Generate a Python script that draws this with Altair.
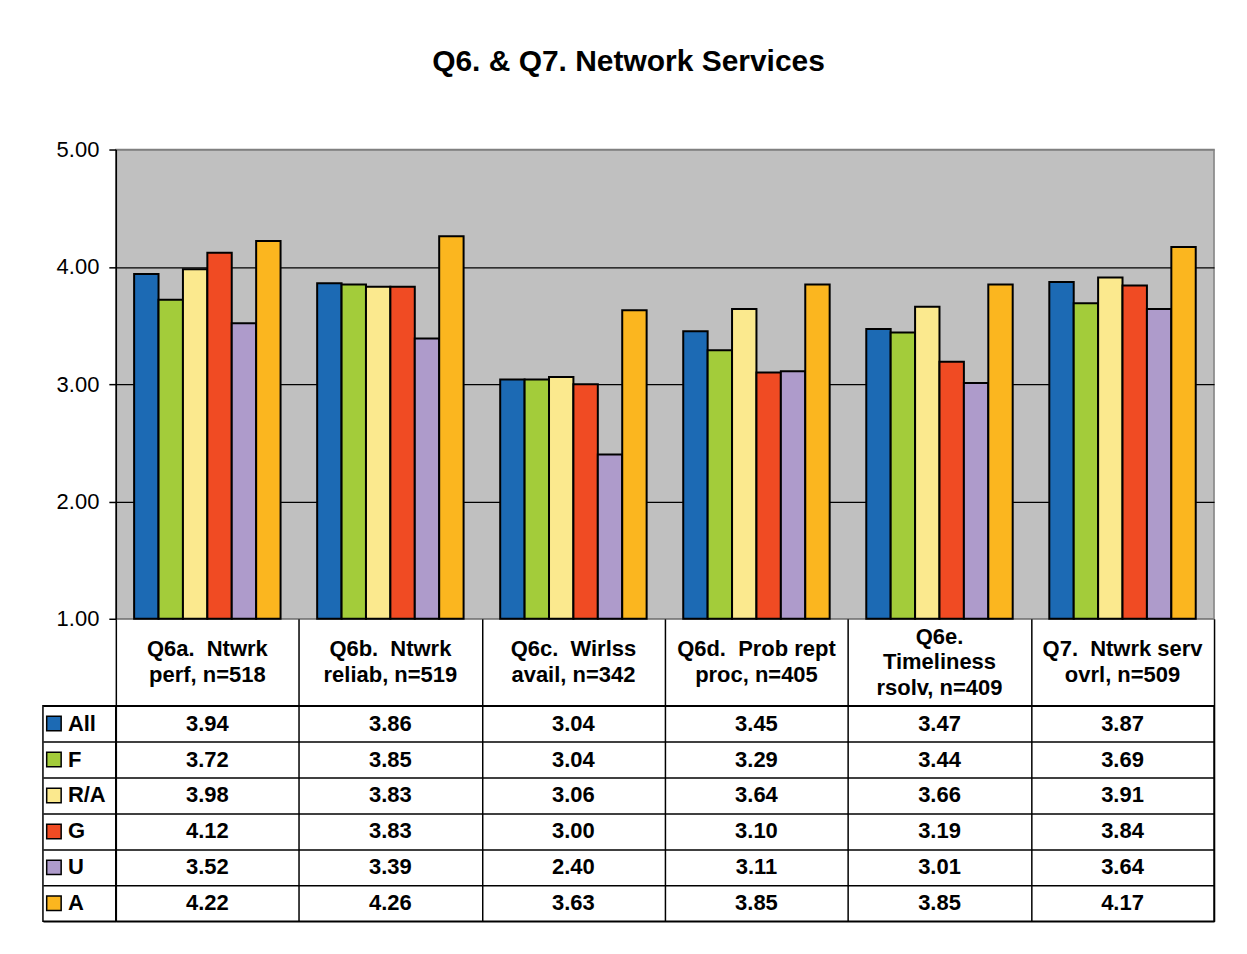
import altair as alt
import pandas as pd

FONT = "Liberation Sans"
NB = "\u00a0"

categories = [
    f"Q6a.{NB} Ntwrk\nperf, n=518",
    f"Q6b.{NB} Ntwrk\nreliab, n=519",
    f"Q6c.{NB} Wirlss\navail, n=342",
    f"Q6d.{NB} Prob rept\nproc, n=405",
    "Q6e.\nTimeliness\nrsolv, n=409",
    f"Q7.{NB} Ntwrk serv\novrl, n=509",
]
groups = ["All", "F", "R/A", "G", "U", "A"]
colors = ["#1C6AB4", "#A3CC3A", "#FBE98E", "#F04B23", "#AE9BCB", "#FBB61F"]

vals_all = [3.94, 3.86, 3.04, 3.45, 3.47, 3.87]
vals_f = [3.72, 3.85, 3.04, 3.29, 3.44, 3.69]
vals_ra = [3.98, 3.83, 3.06, 3.64, 3.66, 3.91]
vals_g = [4.12, 3.83, 3.00, 3.10, 3.19, 3.84]
vals_u = [3.52, 3.39, 2.40, 3.11, 3.01, 3.64]
vals_a = [4.22, 4.26, 3.63, 3.85, 3.85, 4.17]
series = [vals_all, vals_f, vals_ra, vals_g, vals_u, vals_a]

rows = []
for g, vals in zip(groups, series):
    for c, v in zip(categories, vals):
        rows.append({"cat": c, "grp": g, "val": v})
df = pd.DataFrame(rows)
df_cat = pd.DataFrame({"cat": categories,
                       "nl": [len(c.split("\n")) for c in categories]})
df_grp = pd.DataFrame({"grp": groups})

LINE = 1.5
FS = 22
LH = 25.5


def grid_axis():
    return alt.Axis(grid=True, tickBand="extent", labels=False, ticks=False,
                    domain=False, title=None, gridColor="black", gridWidth=LINE)


cat_scale = alt.Scale(paddingInner=0, paddingOuter=0)
grp_scale = alt.Scale(paddingInner=0, paddingOuter=0)

bars = alt.Chart(df).mark_bar(stroke="black", strokeWidth=2).encode(
    x=alt.X("cat:N", sort=categories, axis=None,
            scale=alt.Scale(paddingInner=0.2, paddingOuter=0.1)),
    xOffset=alt.XOffset("grp:N", sort=groups,
                        scale=alt.Scale(paddingInner=0, paddingOuter=0)),
    y=alt.Y("val:Q", scale=alt.Scale(domain=[1, 5], zero=False, nice=False),
            axis=alt.Axis(values=[1, 2, 3, 4, 5], format=".2f", title=None,
                          labelFont=FONT, labelFontSize=FS, labelColor="black",
                          tickColor="black", tickSize=7, tickWidth=1.5, labelPadding=10,
                          domainColor="black", domainWidth=1.5,
                          gridColor={"condition": {"test": "datum.value === 1 || datum.value === 5",
                                                   "value": "#808080"},
                                     "value": "black"},
                          gridWidth=1.2)),
    y2=alt.datum(1),
    color=alt.Color("grp:N", sort=groups,
                    scale=alt.Scale(domain=groups, range=colors),
                    legend=alt.Legend(orient="none", legendX=-73, legendY=564,
                                      title=None, symbolType="square", symbolSize=210,
                                      symbolStrokeColor="black", symbolStrokeWidth=1.5,
                                      labelFont=FONT, labelFontSize=FS,
                                      labelFontWeight="bold", labelColor="black",
                                      rowPadding=14, labelOffset=3, padding=0,
                                      symbolOpacity=1)),
).properties(width=1100, height=470,
             view=alt.ViewBackground(fill="#C0C0C0", stroke="#808080", strokeWidth=1.5))

header_base = alt.Chart(df_cat).encode(
    x=alt.X("cat:N", sort=categories, scale=cat_scale, axis=grid_axis()),
    text="cat:N",
)
header2 = header_base.mark_text(
    font=FONT, fontSize=FS, fontWeight="bold", lineBreak="\n", lineHeight=LH,
    color="black", baseline="middle", dy=-LH / 2
).transform_filter("datum.nl == 2")
header3 = header_base.mark_text(
    font=FONT, fontSize=FS, fontWeight="bold", lineBreak="\n", lineHeight=LH,
    color="black", baseline="middle", dy=-LH
).transform_filter("datum.nl == 3")
header = alt.layer(header2, header3).properties(
    width=1100, height=87,
    view=alt.ViewBackground(fill="transparent", stroke="transparent"))

values = alt.Chart(df).mark_text(
    font=FONT, fontSize=FS, fontWeight="bold", color="black"
).encode(
    x=alt.X("cat:N", sort=categories, scale=cat_scale, axis=grid_axis()),
    y=alt.Y("grp:N", sort=groups, scale=grp_scale, axis=grid_axis()),
    text=alt.Text("val:Q", format=".2f"),
).properties(width=1100, height=216,
             view=alt.ViewBackground(fill="transparent", stroke="black", strokeWidth=LINE))

legcol = alt.Chart(df_grp).mark_text(opacity=0).encode(
    y=alt.Y("grp:N", sort=groups, scale=grp_scale, axis=grid_axis()),
    text="grp:N",
).properties(width=73, height=216,
             view=alt.ViewBackground(fill="transparent", stroke="black", strokeWidth=LINE))


def spacer(h):
    return alt.Chart(df_grp).mark_text(opacity=0).encode(text="grp:N").properties(
        width=73, height=h,
        view=alt.ViewBackground(fill="transparent", stroke="transparent"))


chart = alt.concat(
    spacer(470), bars,
    spacer(87), header,
    legcol, values,
    columns=2, spacing=0, bounds="flush",
).resolve_scale(x="independent", y="independent", color="independent"
).resolve_legend(color="independent"
).properties(
    title=alt.TitleParams("Q6. & Q7. Network Services", font=FONT, fontSize=30,
                          fontWeight="bold", color="black", anchor="middle", offset=61),
    padding={"left": 34, "top": 38, "right": 24, "bottom": 24},
    background="white",
)

chart.save("out.html", embed_options={"renderer": "svg", "actions": False})
